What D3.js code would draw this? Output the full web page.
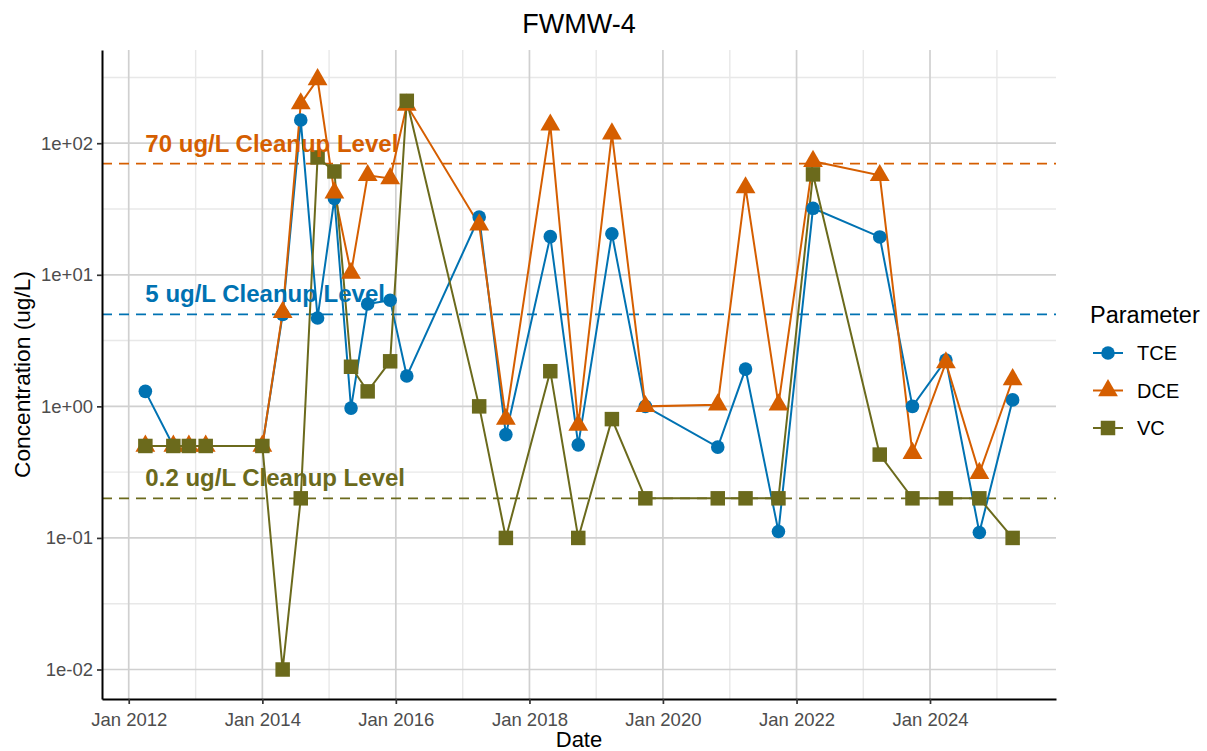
<!DOCTYPE html>
<html>
<head>
<meta charset="utf-8">
<script src="https://cdn.jsdelivr.net/npm/d3@7"></script>
<style>
  body { margin: 0; background: #fff; }
  svg text { font-family: "Liberation Sans", Arial, sans-serif; }
</style>
</head>
<body>
<div id="chart"></div>
<script>
// sample dates and concentrations (ug/L)
const dates = ["2012-04-01","2012-09-01","2012-11-25","2013-02-25","2014-01-01","2014-04-22",
  "2014-07-30","2014-10-30","2015-01-30","2015-05-01","2015-07-31","2015-12-01","2016-03-01",
  "2017-04-01","2017-08-25","2018-04-25","2018-09-25","2019-03-28","2019-09-27","2020-10-27",
  "2021-03-28","2021-09-24","2022-04-01","2023-04-01","2023-09-27","2024-03-28","2024-09-27","2025-03-28"];
const tce = [1.3,0.5,0.5,0.5,0.5,5.0,150,4.7,38,0.97,6.0,6.4,1.7,27.5,0.61,19.5,0.51,20.5,1.0,0.49,1.92,0.112,32,19.4,1.0,2.25,0.11,1.12];
const dce = [0.5,0.5,0.5,0.5,0.5,5.2,200,305,42,10.3,57,54,195,24,0.8,138,0.72,118,1.0,1.03,46,1.03,73,57,0.44,2.15,0.31,1.6];
const vc  = [0.5,0.5,0.5,0.5,0.5,0.01,0.2,78,61,2.0,1.3,2.2,210,1.0,0.1,1.85,0.1,0.8,0.2,0.2,0.2,0.2,58,0.43,0.2,0.2,0.2,0.1];

const seriesNames = ["TCE", "DCE", "VC"];
const seriesColors = ["#0072B2", "#D55E00", "#6B6A1C"];
const seriesShapes = [d3.symbolCircle, d3.symbolTriangle, d3.symbolSquare];

const levelValues = [70, 5, 0.2];
const levelLabels = ["70 ug/L Cleanup Level", "5 ug/L Cleanup Level", "0.2 ug/L Cleanup Level"];
const levelColors = ["#D55E00", "#0072B2", "#6B6A1C"];

const xTickYears = [2012, 2014, 2016, 2018, 2020, 2022, 2024];
const xMinorYears = [2013, 2015, 2017, 2019, 2021, 2023, 2025];
const yTicks = [1e-2, 1e-1, 1e0, 1e1, 1e2];

const width = 1207, height = 751;
const margin = {left: 102, right: 151, top: 50, bottom: 52};

const parse = d3.timeParse("%Y-%m-%d");
const dateObjs = dates.map(parse);
const allSeries = [tce, dce, vc];

const svg = d3.select("#chart").append("svg")
  .attr("width", width).attr("height", height);

// x scale with 5% expansion like ggplot
const xExt = d3.extent(dateObjs);
const xPad = (xExt[1] - xExt[0]) * 0.05;
const xScale = d3.scaleTime()
  .domain([new Date(+xExt[0] - xPad), new Date(+xExt[1] + xPad)])
  .range([margin.left, width - margin.right]);

// log y scale with 5% expansion in log space
const allVals = tce.concat(dce, vc);
const lmin = Math.log10(d3.min(allVals)), lmax = Math.log10(d3.max(allVals));
const lpad = (lmax - lmin) * 0.05;
const yScale = d3.scaleLog()
  .domain([Math.pow(10, lmin - lpad), Math.pow(10, lmax + lpad)])
  .range([height - margin.bottom, margin.top]);

const pTop = margin.top, pBottom = height - margin.bottom;
const pLeft = margin.left, pRight = width - margin.right;

// grid lines
const yMinor = yTicks.map(v => v * Math.sqrt(10)).filter(v => v < yScale.domain()[1]);
svg.append("g").selectAll("line").data(yMinor).join("line")
  .attr("x1", pLeft).attr("x2", pRight)
  .attr("y1", d => yScale(d)).attr("y2", d => yScale(d))
  .attr("stroke", "#e8e8e8").attr("stroke-width", 1.4);
svg.append("g").selectAll("line").data(xMinorYears.map(y => new Date(y, 0, 1))).join("line")
  .attr("x1", d => xScale(d)).attr("x2", d => xScale(d))
  .attr("y1", pTop).attr("y2", pBottom)
  .attr("stroke", "#e8e8e8").attr("stroke-width", 1.4);
svg.append("g").selectAll("line").data(yTicks).join("line")
  .attr("x1", pLeft).attr("x2", pRight)
  .attr("y1", d => yScale(d)).attr("y2", d => yScale(d))
  .attr("stroke", "#d0d0d0").attr("stroke-width", 1.7);
svg.append("g").selectAll("line").data(xTickYears.map(y => new Date(y, 0, 1))).join("line")
  .attr("x1", d => xScale(d)).attr("x2", d => xScale(d))
  .attr("y1", pTop).attr("y2", pBottom)
  .attr("stroke", "#d0d0d0").attr("stroke-width", 1.7);

// cleanup level lines
svg.append("g").selectAll("line").data(levelValues).join("line")
  .attr("x1", pLeft).attr("x2", pRight)
  .attr("y1", d => yScale(d)).attr("y2", d => yScale(d))
  .attr("stroke", (d, i) => levelColors[i])
  .attr("stroke-width", 1.7)
  .attr("stroke-dasharray", "10,7");

// series lines
const line = d3.line()
  .x((d, i) => xScale(dateObjs[i]))
  .y(d => yScale(d));
allSeries.forEach((s, k) => {
  svg.append("path").datum(s)
    .attr("d", line)
    .attr("fill", "none")
    .attr("stroke", seriesColors[k])
    .attr("stroke-width", 2);
});

// points
const symSizes = [145, 170, 210];
allSeries.forEach((s, k) => {
  svg.append("g").selectAll("path").data(s).join("path")
    .attr("transform", (d, i) => `translate(${xScale(dateObjs[i])},${yScale(d)})`)
    .attr("d", d3.symbol().type(seriesShapes[k]).size(symSizes[k]))
    .attr("fill", seriesColors[k]);
});

// cleanup level labels
svg.append("g").selectAll("text").data(levelValues).join("text")
  .attr("x", xScale(dateObjs[0]))
  .attr("y", d => yScale(d) - 12)
  .attr("fill", (d, i) => levelColors[i])
  .attr("font-size", "24px")
  .attr("font-weight", "bold")
  .text((d, i) => levelLabels[i]);

// axes
const fmtY = v => {
  const e = Math.round(Math.log10(v));
  return "1e" + (e < 0 ? "-" : "+") + String(Math.abs(e)).padStart(2, "0");
};
const xAxis = svg.append("g")
  .attr("transform", `translate(0,${pBottom})`)
  .call(d3.axisBottom(xScale)
    .tickValues(xTickYears.map(y => new Date(y, 0, 1)))
    .tickFormat(d3.timeFormat("Jan %Y"))
    .tickSize(5).tickSizeOuter(0));
const yAxis = svg.append("g")
  .attr("transform", `translate(${pLeft},0)`)
  .call(d3.axisLeft(yScale)
    .tickValues(yTicks)
    .tickFormat(fmtY)
    .tickSize(5).tickSizeOuter(0));
[xAxis, yAxis].forEach(g => {
  g.select(".domain").attr("stroke", "#000").attr("stroke-width", 2);
  g.selectAll(".tick line").attr("stroke", "#333").attr("stroke-width", 1.7);
  g.selectAll(".tick text").attr("fill", "#4D4D4D").attr("font-size", "18.5px")
    .attr("font-family", "Liberation Sans, Arial, sans-serif");
});
xAxis.selectAll(".tick text").attr("dy", "1.0em");
yAxis.selectAll(".tick text").attr("x", -9);

// titles
svg.append("text")
  .attr("x", (pLeft + pRight) / 2).attr("y", 33)
  .attr("text-anchor", "middle").attr("font-size", "27px")
  .text("FWMW-4");
svg.append("text")
  .attr("x", (pLeft + pRight) / 2).attr("y", 747)
  .attr("text-anchor", "middle").attr("font-size", "22px")
  .text("Date");
svg.append("text")
  .attr("transform", `translate(30,${(pTop + pBottom) / 2}) rotate(-90)`)
  .attr("text-anchor", "middle").attr("font-size", "22.7px")
  .text("Concentration (ug/L)");

// legend
const legend = svg.append("g").attr("transform", "translate(1090,0)");
legend.append("text").attr("x", 0).attr("y", 323)
  .attr("font-size", "23.5px").text("Parameter");
seriesNames.forEach((name, k) => {
  const cy = 353 + k * 37.5;
  legend.append("line")
    .attr("x1", 3).attr("x2", 33).attr("y1", cy).attr("y2", cy)
    .attr("stroke", seriesColors[k]).attr("stroke-width", 2);
  legend.append("path")
    .attr("transform", `translate(18,${cy})`)
    .attr("d", d3.symbol().type(seriesShapes[k]).size(symSizes[k]))
    .attr("fill", seriesColors[k]);
  legend.append("text").attr("x", 47).attr("y", cy + 7)
    .attr("font-size", "20px").text(name);
});
</script>
</body>
</html>
